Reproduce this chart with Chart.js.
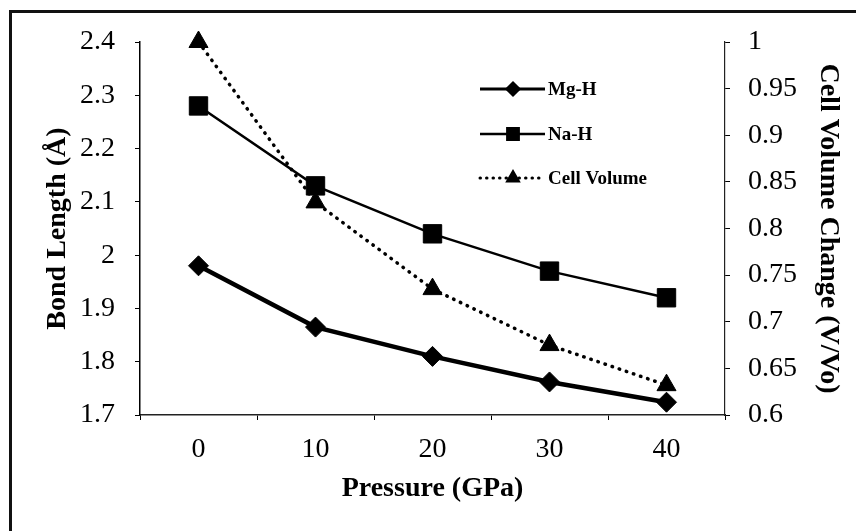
<!DOCTYPE html>
<html>
<head>
<meta charset="utf-8">
<script src="https://cdn.jsdelivr.net/npm/chart.js@4/dist/chart.umd.min.js"></script>
<style>
  html, body { margin: 0; padding: 0; background: #fff; }
  #wrap { position: relative; width: 856px; height: 531px; overflow: hidden; }
  #frame { position: absolute; left: 9px; top: 10px; width: 900px; height: 600px;
           border-top: 3px solid #111; border-left: 3px solid #111; }
  canvas { position: absolute; left: 0; top: 0; }
</style>
</head>
<body>
<div id="wrap">
  <div id="frame"></div>
  <canvas id="chart" width="856" height="531"></canvas>
</div>
<script>
const pressures = ['0', '10', '20', '30', '40'];
const mgH = [1.98, 1.865, 1.81, 1.762, 1.724];
const naH = [2.28, 2.13, 2.04, 1.97, 1.92];
const cellVolume = [1.0, 0.828, 0.735, 0.675, 0.632];

const serif = "'Liberation Serif', 'DejaVu Serif', serif";

// legend drawn inside the plot area, like the original
const insideLegend = {
    id: 'insideLegend',
    afterDatasetsDraw(chart) {
        const ctx = chart.ctx;
        const a = chart.chartArea;
        const x0 = a.left + 340, x1 = a.left + 405, xm = a.left + 373;
        const rows = [
            { label: 'Mg-H', y: a.top + 47, ds: 0 },
            { label: 'Na-H', y: a.top + 92, ds: 1 },
            { label: 'Cell Volume', y: a.top + 136, ds: 2 }
        ];
        ctx.save();
        rows.forEach(r => {
            const ds = chart.data.datasets[r.ds];
            ctx.strokeStyle = '#000';
            ctx.lineWidth = r.ds === 0 ? 3 : (r.ds === 1 ? 2.5 : 3);
            ctx.setLineDash(r.ds === 2 ? [0.5, 6] : []);
            ctx.lineCap = r.ds === 2 ? 'round' : 'butt';
            ctx.beginPath();
            ctx.moveTo(x0, r.y);
            ctx.lineTo(x1, r.y);
            ctx.stroke();
            ctx.setLineDash([]);
            ctx.fillStyle = '#000';
            Chart.helpers.drawPoint(ctx, {
                pointStyle: ds.pointStyle,
                radius: r.ds === 1 ? 8 : 6,
                borderWidth: 1
            }, xm, r.y);
            ctx.font = 'bold 19px ' + serif;
            ctx.textBaseline = 'middle';
            ctx.textAlign = 'left';
            ctx.fillText(r.label, x1 + 3, r.y + 1);
        });
        ctx.restore();
    }
};

new Chart(document.getElementById('chart'), {
    type: 'line',
    data: {
        labels: pressures,
        datasets: [
            {
                label: 'Mg-H',
                data: mgH,
                yAxisID: 'y',
                borderColor: '#000',
                backgroundColor: '#000',
                borderWidth: 4.5,
                pointStyle: 'rectRot',
                pointRadius: 10,
                pointBorderWidth: 1,
                clip: false
            },
            {
                label: 'Na-H',
                data: naH,
                yAxisID: 'y',
                borderColor: '#000',
                backgroundColor: '#000',
                borderWidth: 2.5,
                pointStyle: 'rect',
                pointRadius: 13,
                pointBorderWidth: 1,
                clip: false
            },
            {
                label: 'Cell Volume',
                data: cellVolume,
                yAxisID: 'y1',
                borderColor: '#000',
                backgroundColor: '#000',
                borderWidth: 3.5,
                borderDash: [0.5, 7],
                borderCapStyle: 'round',
                pointStyle: 'triangle',
                pointRadius: 11,
                pointBorderWidth: 1,
                clip: false
            }
        ]
    },
    options: {
        responsive: false,
        animation: false,
        devicePixelRatio: 1,
        layout: { padding: { top: 42, left: 0, right: 0, bottom: 0 } },
        plugins: {
            legend: { display: false },
            tooltip: { enabled: false }
        },
        scales: {
            x: {
                offset: true,
                grid: { offset: true, drawOnChartArea: false, tickLength: 5, color: '#000' },
                border: { color: '#222', width: 1.5, dash: [4, 2] },
                ticks: { color: '#000', font: { family: serif, size: 28 }, padding: 13 },
                title: {
                    display: true, text: 'Pressure (GPa)', color: '#000',
                    font: { family: serif, size: 28, weight: 'bold' },
                    padding: { top: 0, bottom: 25 }
                },
                afterFit(scale) { scale.height = 116; }
            },
            y: {
                position: 'left',
                min: 1.7, max: 2.4,
                grid: { drawOnChartArea: false, tickLength: 5, color: '#000' },
                border: { color: '#000', width: 1.5 },
                ticks: {
                    stepSize: 0.1, color: '#000', padding: 20,
                    font: { family: serif, size: 28 },
                    callback: v => String(Number(v.toFixed(1)))
                },
                title: {
                    display: true, text: 'Bond Length (Å)', color: '#000',
                    font: { family: serif, size: 28, weight: 'bold' },
                    padding: { top: 41, bottom: 0 }
                },
                afterFit(scale) { scale.width = 140; }
            },
            y1: {
                position: 'right',
                min: 0.6, max: 1.0,
                grid: { drawOnChartArea: false, tickLength: 5, color: '#000' },
                border: { color: '#222', width: 1.2, dash: [4, 2] },
                ticks: {
                    stepSize: 0.05, color: '#000', padding: 18,
                    font: { family: serif, size: 28 },
                    callback: v => String(Number(v.toFixed(2)))
                },
                title: {
                    display: true, text: 'Cell Volume Change (V/Vo)', color: '#000',
                    font: { family: serif, size: 28, weight: 'bold' },
                    padding: { top: 11, bottom: 0 }
                },
                afterFit(scale) { scale.width = 131; }
            }
        }
    },
    plugins: [insideLegend]
});
</script>
</body>
</html>
